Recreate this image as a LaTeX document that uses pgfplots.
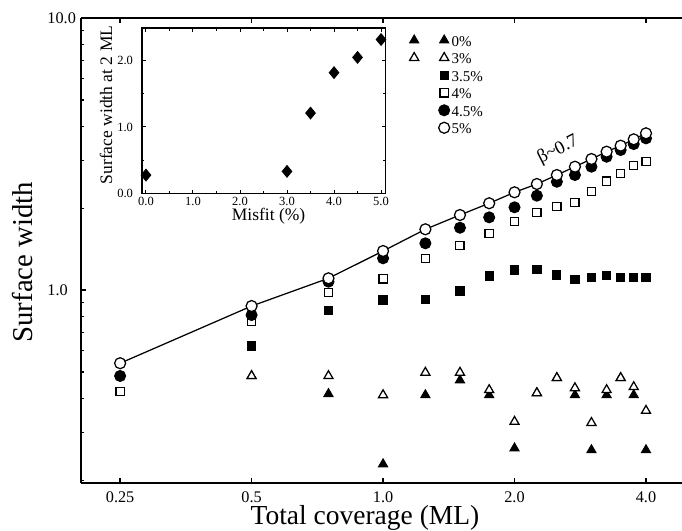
\documentclass[border=0pt]{standalone}
\usepackage{fontspec}
\setmainfont{Liberation Serif}
\usepackage{pgfplots}
\pgfplotsset{compat=1.18}
\usepackage{pgfplotstable}

% surface width vs coverage, one table per misfit
\pgfplotstableread{
x y
0.5 0.483
0.75 0.415
1.0 0.229
1.25 0.411
1.5 0.466
1.75 0.411
2.0 0.262
2.25 0.418
2.5 0.475
2.75 0.411
3.0 0.258
3.25 0.411
3.5 0.475
3.75 0.411
4.0 0.258
}\misA
\pgfplotstableread{
x y
0.5 0.483
0.75 0.483
1.0 0.411
1.25 0.497
1.5 0.497
1.75 0.429
2.0 0.328
2.25 0.418
2.5 0.475
2.75 0.436
3.0 0.325
3.25 0.429
3.5 0.475
3.75 0.440
4.0 0.360
}\misB
\pgfplotstableread{
x y
0.25 0.423
0.5 0.623
0.75 0.839
1.0 0.919
1.25 0.924
1.5 0.992
1.75 1.126
2.0 1.184
2.25 1.19
2.5 1.135
2.75 1.095
3.0 1.114
3.25 1.129
3.5 1.114
3.75 1.11
4.0 1.11
}\misC
\pgfplotstableread{
x y
0.25 0.423
0.5 0.765
0.75 0.977
1.0 1.098
1.25 1.308
1.5 1.455
1.75 1.616
2.0 1.783
2.25 1.930
2.5 2.024
2.75 2.10
3.0 2.298
3.25 2.516
3.5 2.686
3.75 2.864
4.0 2.963
}\misD
\pgfplotstableread{
x y
0.25 0.483
0.5 0.809
0.75 1.073
1.0 1.308
1.25 1.485
1.5 1.694
1.75 1.850
2.0 2.014
2.25 2.222
2.5 2.50
2.75 2.647
3.0 2.84
3.25 3.09
3.5 3.27
3.75 3.44
4.0 3.61
}\misE
\pgfplotstableread{
x y
0.25 0.538
0.5 0.873
0.75 1.104
1.0 1.391
1.25 1.672
1.5 1.887
1.75 2.084
2.0 2.287
2.25 2.453
2.5 2.647
2.75 2.840
3.0 3.031
3.25 3.225
3.5 3.393
3.75 3.581
4.0 3.768
}\misF
% inset: width at 2 ML vs misfit
\pgfplotstableread{
x y
0.0 0.274
3.0 0.33
3.5 1.21
4.0 1.82
4.5 2.05
5.0 2.32
}\inset

\pgfplotsset{
  one mark/.style={legend image code/.code={\draw[##1,only marks] plot coordinates {(0pt,0pt)};}},
  two marks/.style={legend image code/.code={\draw[##1,only marks] plot coordinates {(-12pt,0pt) (0pt,0pt)};}},
}

\begin{document}
\begin{tikzpicture}
\begin{axis}[
  name=main,
  scale only axis, width=240.4pt, height=186pt,
  xmode=log, ymode=log,
  xmin=0.2034, xmax=4.836, ymin=0.1952, ymax=10,
  xtick={0.25,0.5,1,2,4}, xticklabels={0.25,0.5,1.0,2.0,4.0},
  ytick={1,10}, yticklabels={1.0,10.0},
  minor xtick={},
  minor ytick={0.2,0.3,0.4,0.5,0.6,0.7,0.8,0.9,2,3,4,5,6,7,8,9},
  axis x line*=box, axis y line*=left, ytick pos=left,
  tick align=inside,
  major tick length=2pt, minor tick length=1.2pt,
  every tick/.style={black, line width=0.5pt},
  axis line style={line width=0.7pt, -},
  /pgf/number format/assume math mode=true,
  tick label style={font=\fontsize{6.5}{7}\selectfont},
  yticklabel style={anchor=east, inner sep=0pt, text width=12pt, align=left, xshift=-1.2pt},
  xticklabel style={yshift=0pt},
  label style={font=\fontsize{11}{13}\selectfont},
  xlabel={Total coverage (ML)}, ylabel={Surface width},
  xlabel style={at={(axis description cs:0.4725,-0.0903)}, anchor=base},
  ylabel style={at={(axis description cs:-0.098,0.475)}, anchor=center, font=\fontsize{11.5}{13}\selectfont},
  legend style={draw=none, fill=none, at={(0.546,0.972)}, anchor=north west,
    inner sep=0pt, font=\fontsize{6}{7}\selectfont,
    nodes={inner sep=0.8pt, text height=5.1pt, text depth=0.3pt}},
  legend cell align=left,
]
\addplot[only marks, mark=triangle*, mark size=2.1pt, mark options={fill=black, draw=black}, two marks] table {\misA};
\addplot[only marks, mark=triangle*, mark size=2.1pt, mark options={fill=white, draw=black, line width=0.5pt}, two marks] table {\misB};
\addplot[only marks, mark=square*, mark size=1.65pt, mark options={fill=black, draw=black}, one mark] table {\misC};
\addplot[only marks, mark=square*, mark size=1.65pt, mark options={fill=white, draw=black, line width=0.5pt}, one mark] table {\misD};
\addplot[only marks, mark=*, mark size=2.2pt, mark options={fill=black, draw=black}, one mark] table {\misE};
\addplot[only marks, mark=*, mark size=2.2pt, mark options={fill=white, draw=black, line width=0.5pt}, one mark] table {\misF};
\addplot[black, line width=0.5pt, forget plot] table {\misF};
\legend{0\%,3\%,3.5\%,4\%,4.5\%,5\%}
\node[rotate=27, font=\fontsize{7.5}{8}\selectfont] at (axis cs:2.515,3.27) {β\textasciitilde 0.7};
\end{axis}
\begin{axis}[
  at={(24.3pt,115.9pt)}, anchor=south west,
  scale only axis, width=97.6pt, height=66pt,
  xmin=-0.09, xmax=5.1, ymin=0, ymax=2.49,
  xtick={0,1,2,3,4,5}, xticklabels={0.0,1.0,2.0,3.0,4.0,5.0},
  ytick={0,1,2}, yticklabels={0.0,1.0,2.0},
  minor x tick num=1, minor y tick num=1,
  tick align=inside,
  major tick length=1.5pt, minor tick length=1pt,
  every tick/.style={black, line width=0.4pt},
  axis line style={line width=0.6pt},
  axis background/.style={fill=white},
  /pgf/number format/assume math mode=true,
  tick label style={font=\fontsize{5}{6}\selectfont},
  xticklabel style={yshift=1.8pt},
  label style={font=\fontsize{7}{8}\selectfont},
  xlabel={Misfit (\%)}, ylabel={Surface width at 2 ML},
  xlabel style={at={(axis description cs:0.52,-0.165)}, anchor=base},
  ylabel style={at={(axis description cs:-0.146,0.535)}, anchor=center},
]
\addplot[only marks, mark=diamond*, mark size=2.3pt, mark options={fill=black, draw=black, xscale=1.1}] table {\inset};
\end{axis}
\pgfresetboundingbox
\useasboundingbox (-32.4pt,-18.8pt) rectangle (240.4pt,193.2pt);
\end{tikzpicture}
\end{document}
